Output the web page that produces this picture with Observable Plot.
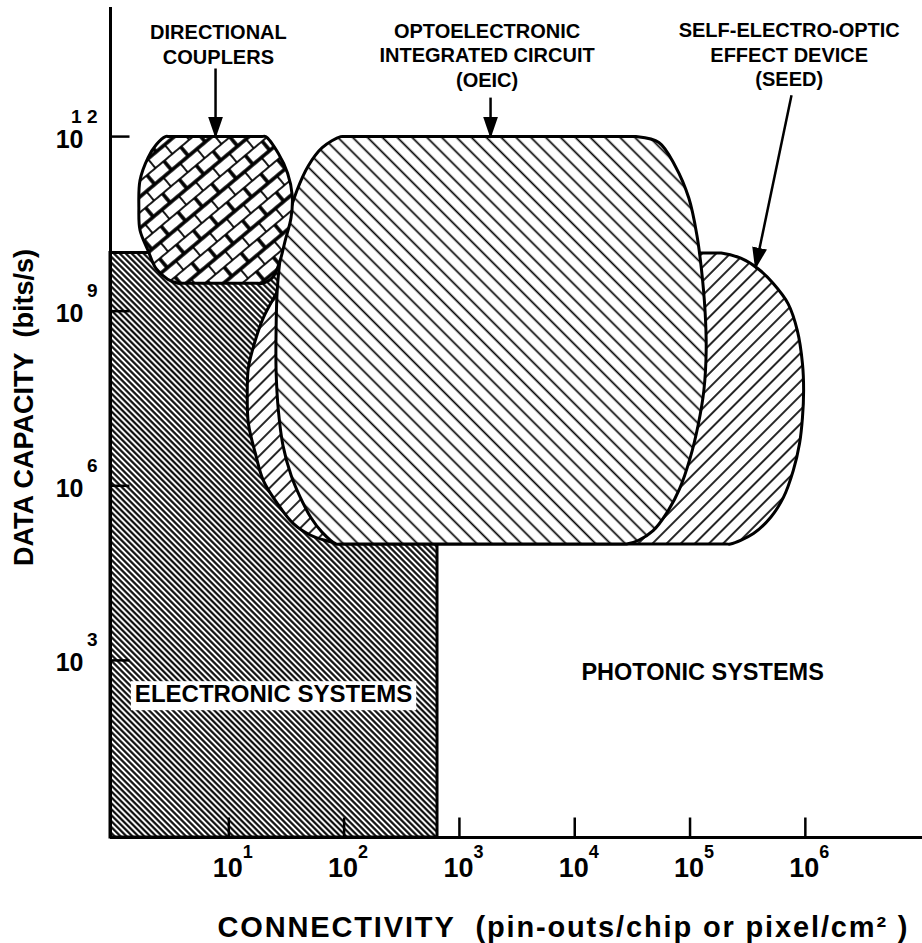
<!DOCTYPE html>
<html><head><meta charset="utf-8">
<script src="https://cdn.jsdelivr.net/npm/d3@7"></script>
<script src="https://cdn.jsdelivr.net/npm/@observablehq/plot@0.6"></script>
<style>
html,body{margin:0;padding:0;background:#fff;}
#chart svg{display:block;}
</style></head><body><div id="chart"></div>
<script>
// ---- data (all positions as log10 exponents of connectivity / data capacity) ----
const xDomainExp = [-0.026, 7.016];
const yDomainExp = [-0.043, 14.218];
const xTickExps = [1, 2, 3, 4, 5, 6];
const yTickExps = [3, 6, 9, 12];
const yTickExpLabels = ["3", "6", "9", "1 2"];

// Electronic systems: rectangle up to 10^2.81 connectivity, 10^10 bits/s
const electronicMaxExp = {x: 2.81, y: 10};

// Outline of Directional couplers
const couplersOutline = [[0.45,12],[0.49,12],[1.28,12],[1.32,12],[1.43,11.71],[1.51,11.37],[1.55,10.99],[1.54,10.61],[1.49,10.22],[1.44,9.84],[1.38,9.58],[1.29,9.48],[1.25,9.48],[0.60,9.48],[0.56,9.48],[0.47,9.55],[0.37,9.73],[0.30,10.04],[0.23,10.39],[0.22,10.78],[0.23,11.25],[0.30,11.64],[0.37,11.86]];

// Outline of OEIC
const oeicOutline = [[1.97,12],[2.01,12],[4.49,12],[4.53,12],[4.73,11.90],[4.87,11.50],[4.99,10.94],[5.06,10.30],[5.10,9.70],[5.13,9.01],[5.14,8.33],[5.12,7.64],[5.07,7.04],[5.00,6.47],[4.91,5.95],[4.80,5.54],[4.68,5.23],[4.55,5.06],[4.45,5.0],[4.41,5.0],[1.97,5],[1.93,5],[1.81,5.20],[1.71,5.46],[1.62,5.80],[1.54,6.18],[1.47,6.69],[1.43,7.29],[1.41,7.98],[1.41,8.67],[1.42,9.36],[1.45,9.96],[1.51,10.56],[1.59,11.07],[1.69,11.50],[1.81,11.81]];

// Outline of SEED
const seedOutline = [[1.67,10],[1.71,10],[5.23,10],[5.27,10],[5.44,9.91],[5.59,9.73],[5.72,9.48],[5.85,9.13],[5.93,8.67],[5.975,8.10],[5.985,7.64],[5.975,7.17],[5.95,6.73],[5.895,6.26],[5.81,5.80],[5.70,5.46],[5.55,5.18],[5.35,5.0],[5.31,5.0],[2.01,5],[1.97,5],[1.84,5.06],[1.71,5.15],[1.56,5.35],[1.42,5.70],[1.30,6.09],[1.23,6.56],[1.17,7.07],[1.16,7.59],[1.17,8.03],[1.23,8.50],[1.30,8.89],[1.41,9.30],[1.52,9.70]];

// Annotations
const annotations = [
  {label: "DIRECTIONAL\nCOUPLERS", x: 0.91, y: 13.60},
  {label: "OPTOELECTRONIC\nINTEGRATED CIRCUIT\n(OEIC)", x: 3.24, y: 13.41},
  {label: "SELF-ELECTRO-OPTIC\nEFFECT DEVICE\n(SEED)", x: 5.86, y: 13.42}
];
const arrows = [
  {x1: 0.885, y1: 13.17, x2: 0.885, y2: 12.0},
  {x1: 3.27, y1: 12.67, x2: 3.27, y2: 12.0},
  {x1: 5.88, y1: 12.71, x2: 5.568, y2: 9.75}
];
const regionLabels = [
  {label: "ELECTRONIC SYSTEMS", x: 1.388, y: 2.414, boxed: true},
  {label: "PHOTONIC SYSTEMS", x: 5.109, y: 2.792, boxed: false}
];
const xTitle = "CONNECTIVITY\u00a0\u00a0(pin-outs/chip or pixel/cm\u00b2 )";
const yTitle = "DATA CAPACITY\u00a0\u00a0(bits/s)";

// ---- helpers ----
const P = e => 10 ** e;
const pts = arr => arr.map(([a, b]) => ({x: P(a), y: P(b)}));
const xMin = P(xDomainExp[0]), yMin = P(yDomainExp[0]);
const font = "Liberation Sans, Arial, Helvetica, sans-serif";
const tickShape = {draw(ctx, l) { ctx.moveTo(0, 0); ctx.lineTo(0, -l); }};

const chart = Plot.plot({
  width: 922, height: 943,
  marginLeft: 110, marginRight: 0, marginTop: 7, marginBottom: 106,
  x: {type: "log", domain: xDomainExp.map(P), axis: null},
  y: {type: "log", domain: yDomainExp.map(P), axis: null},
  style: {fontFamily: font, background: "white", color: "black"},
  marks: [
    Plot.rect([electronicMaxExp], {x1: xMin, x2: d => P(d.x), y1: yMin, y2: d => P(d.y), fill: "url(#pat-dense)", stroke: "black", strokeWidth: 3}),
    Plot.line(pts(seedOutline), {x: "x", y: "y", curve: "catmull-rom-closed", fill: "url(#pat-seed)", stroke: "black", strokeWidth: 3}),
    Plot.line(pts(oeicOutline), {x: "x", y: "y", curve: "catmull-rom-closed", fill: "url(#pat-oeic)", stroke: "black", strokeWidth: 3}),
    Plot.line(pts(couplersOutline), {x: "x", y: "y", curve: "catmull-rom-closed", fill: "url(#pat-brick)", stroke: "black", strokeWidth: 3}),
    // axes
    Plot.ruleY([yMin], {stroke: "black", strokeWidth: 3}),
    Plot.ruleX([xMin], {stroke: "black", strokeWidth: 3}),
    Plot.vector(xTickExps, {x: d => P(d), y: yMin, length: 20, anchor: "start", shape: tickShape, stroke: "black", strokeWidth: 2.5, strokeLinecap: "butt"}),
    Plot.vector(yTickExps, {x: xMin, y: d => P(d), length: 19, rotate: 90, anchor: "start", shape: tickShape, stroke: "black", strokeWidth: 2.5, strokeLinecap: "butt"}),
    // tick labels
    Plot.text(xTickExps, {x: d => P(d), y: yMin, text: () => "10", dy: 31, dx: -1, fontSize: 27, fontWeight: "bold", textAnchor: "middle"}),
    Plot.text(xTickExps, {x: d => P(d), y: yMin, text: d => String(d), dy: 15, dx: 14, fontSize: 18, fontWeight: "bold", textAnchor: "start"}),
    Plot.text(yTickExps, {x: xMin, y: d => P(d), text: () => "10", dy: 3, dx: -27, fontSize: 25, fontWeight: "bold", textAnchor: "end"}),
    Plot.text(yTickExps, {x: xMin, y: d => P(d), text: (d, i) => yTickExpLabels[i], dy: -20, dx: -13, fontSize: 19, fontWeight: "bold", textAnchor: "end"}),
    // axis titles
    Plot.text([xTitle], {frameAnchor: "bottom", text: d => d, dy: 90, dx: 46, fontSize: 29, fontWeight: "bold", textAnchor: "middle", lineAnchor: "middle", className: "x-title"}),
    Plot.text([yTitle], {frameAnchor: "left", text: d => d, rotate: -90, dx: -86, dy: -15, fontSize: 27, fontWeight: "bold", textAnchor: "middle", lineAnchor: "middle"}),
    // annotations
    Plot.text(annotations, {x: d => P(d.x), y: d => P(d.y), text: "label", fontSize: 20, fontWeight: "bold", lineHeight: 1.23, lineAnchor: "middle"}),
    Plot.link(arrows, {x1: d => P(d.x1), y1: d => P(d.y1), x2: d => P(d.x2), y2: d => P(d.y2), stroke: "black", strokeWidth: 2.5, className: "ann-arrow"}),
    // region labels
    Plot.text(regionLabels.filter(d => d.boxed), {x: d => P(d.x), y: d => P(d.y), text: "label", fontSize: 24, fontWeight: "bold", fill: "black", className: "boxed-label"}),
    Plot.text(regionLabels.filter(d => !d.boxed), {x: d => P(d.x), y: d => P(d.y), text: "label", fontSize: 23.5, fontWeight: "bold", fill: "black"})
  ]
});

// ---- patterns and arrowheads ----
const svg = d3.select(chart);
const defs = svg.insert("defs", ":first-child");
function hatch(id, spacing, angle, width) {
  const p = defs.append("pattern").attr("id", id).attr("patternUnits", "userSpaceOnUse")
    .attr("width", spacing).attr("height", spacing).attr("patternTransform", `rotate(${angle})`);
  p.append("rect").attr("width", spacing).attr("height", spacing).attr("fill", "white");
  p.append("line").attr("x1", spacing / 2).attr("x2", spacing / 2).attr("y1", -1).attr("y2", spacing + 1)
    .attr("stroke", "black").attr("stroke-width", width);
}
hatch("pat-dense", 4.2, -45, 2.1);
hatch("pat-oeic", 10.5, -45, 1.7);
hatch("pat-seed", 10, 45, 1.7);
{
  const w = 22, h = 12;
  const p = defs.append("pattern").attr("id", "pat-brick").attr("patternUnits", "userSpaceOnUse")
    .attr("width", w).attr("height", 2 * h).attr("patternTransform", "rotate(-40)");
  p.append("rect").attr("width", w).attr("height", 2 * h).attr("fill", "white");
  const s = "black", sw = 1.8;
  p.append("line").attr("x1", 0).attr("x2", w).attr("y1", 0).attr("y2", 0).attr("stroke", s).attr("stroke-width", sw * 2);
  p.append("line").attr("x1", 0).attr("x2", w).attr("y1", h).attr("y2", h).attr("stroke", s).attr("stroke-width", sw);
  p.append("line").attr("x1", 0).attr("x2", w).attr("y1", 2 * h).attr("y2", 2 * h).attr("stroke", s).attr("stroke-width", sw * 2);
  p.append("line").attr("x1", w / 2).attr("x2", w / 2).attr("y1", 0).attr("y2", h).attr("stroke", s).attr("stroke-width", sw);
  p.append("line").attr("x1", 0).attr("x2", 0).attr("y1", h).attr("y2", 2 * h).attr("stroke", s).attr("stroke-width", sw * 2);
  p.append("line").attr("x1", w).attr("x2", w).attr("y1", h).attr("y2", 2 * h).attr("stroke", s).attr("stroke-width", sw * 2);
}
defs.append("marker").attr("id", "tri").attr("viewBox", "0 0 22 15").attr("refX", 20).attr("refY", 7.5)
  .attr("markerWidth", 22).attr("markerHeight", 15).attr("markerUnits", "userSpaceOnUse").attr("orient", "auto")
  .append("path").attr("d", "M0,0L22,7.5L0,15Z").attr("fill", "black");
svg.selectAll(".ann-arrow path").attr("marker-end", "url(#tri)");

// the scanned title is set wider than the font's natural width
svg.selectAll(".x-title text").attr("textLength", 690).attr("lengthAdjust", "spacing");

document.getElementById("chart").appendChild(chart);

// white box behind the boxed region label (sized from the rendered text)
svg.selectAll(".boxed-label text").each(function () {
  const b = this.getBBox();
  const t = this.getAttribute("transform");
  d3.select(this.parentNode).insert("rect", () => this)
    .attr("x", b.x - 4).attr("y", b.y + 1).attr("width", b.width + 8).attr("height", b.height + 2)
    .attr("transform", t).attr("fill", "white");
});
</script></body></html>
